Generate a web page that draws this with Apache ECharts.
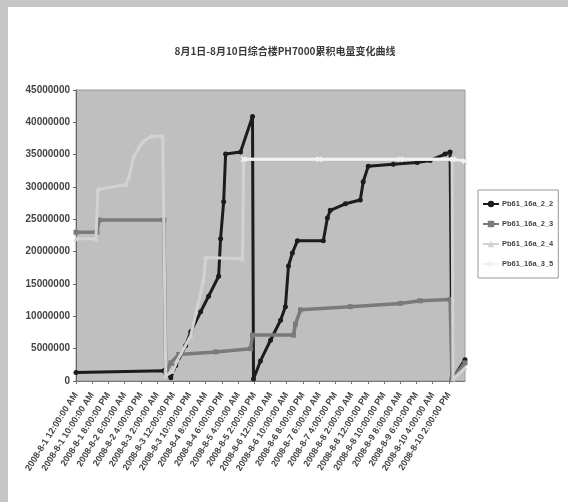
<!DOCTYPE html>
<html>
<head>
<meta charset="utf-8">
<script src="https://cdn.jsdelivr.net/npm/echarts@6/dist/echarts.min.js"></script>
<style>
html,body{margin:0;padding:0;background:#fff;}
#c{width:568px;height:502px;}
</style>
</head>
<body>
<div id="c"></div>
<script>
// ---- data (x in hours since 2008-8-1 0:00, y in raw units) ----
var titleText = '8月1日-8月10日综合楼PH7000累积电量变化曲线';
var seriesNames = ['Pb61_16a_2_2', 'Pb61_16a_2_3', 'Pb61_16a_2_4', 'Pb61_16a_3_5'];
var tickLabels = [
  '2008-8-1 12:00:00 AM', '2008-8-1 10:00:00 AM', '2008-8-1 8:00:00 PM',
  '2008-8-2 6:00:00 AM', '2008-8-2 4:00:00 PM', '2008-8-3 2:00:00 AM',
  '2008-8-3 12:00:00 PM', '2008-8-3 10:00:00 PM', '2008-8-4 8:00:00 AM',
  '2008-8-4 6:00:00 PM', '2008-8-5 4:00:00 AM', '2008-8-5 2:00:00 PM',
  '2008-8-6 12:00:00 AM', '2008-8-6 10:00:00 AM', '2008-8-6 8:00:00 PM',
  '2008-8-7 6:00:00 AM', '2008-8-7 4:00:00 PM', '2008-8-8 2:00:00 AM',
  '2008-8-8 12:00:00 PM', '2008-8-8 10:00:00 PM', '2008-8-9 8:00:00 AM',
  '2008-8-9 6:00:00 PM', '2008-8-10 4:00:00 AM', '2008-8-10 2:00:00 PM'
];
var s1Hours = [0, 54.2, 55.4, 58.5, 61.5, 67.7, 70.8, 76.9, 81.8, 88.0, 89.2, 91.1, 92.3, 101.5, 108.9, 109.5, 113.8, 120.0, 126.2, 129.2, 131.1, 133.5, 136.6, 152.6, 155.1, 156.9, 166.2, 175.4, 177.2, 180.3, 195.7, 210.5, 218.5, 227.7, 230.8, 232.0, 240];
var s1Values = [1300000, 1600000, 1700000, 500000, 2400000, 5500000, 7600000, 10700000, 13100000, 16200000, 22000000, 27700000, 35100000, 35400000, 40900000, 300000, 3100000, 6300000, 9400000, 11500000, 17800000, 19800000, 21700000, 21700000, 25200000, 26400000, 27400000, 28000000, 30800000, 33200000, 33500000, 33800000, 34100000, 35100000, 35400000, 200000, 3300000];
var s2Hours = [0, 12.9, 14.2, 54.2, 55.4, 58.5, 63.4, 86.2, 107.7, 108.9, 134.2, 135.4, 138.5, 169.2, 200, 212.3, 230.8, 232, 240];
var s2Values = [23000000, 23000000, 24900000, 24900000, 1300000, 2800000, 4100000, 4500000, 5000000, 7100000, 7100000, 8800000, 11000000, 11500000, 12000000, 12400000, 12600000, 300000, 2800000];
var s3Hours = [0, 12.3, 13.5, 30.8, 32.6, 35.7, 41.2, 46.2, 53.5, 55.4, 59.7, 62.8, 70.8, 78.8, 80.0, 102.8, 103.4, 232, 232.6, 240];
var s3Values = [22000000, 22000000, 29600000, 30400000, 31500000, 34800000, 37000000, 37800000, 37900000, 800000, 1500000, 3300000, 7000000, 15700000, 19100000, 18900000, 34300000, 34300000, 300000, 2000000];
var s4Hours = [103.4, 150, 200, 232.6, 240];
var s4Values = [34300000, 34300000, 34300000, 34300000, 34000000];

function pairs(h, v) { return h.map(function (x, i) { return [x, v[i]]; }); }

var colors = ['#1c1c1c', '#7a7a7a', '#d2d2d2', '#f2f2f2'];
var lineWidths = [3, 3.5, 3, 3];
var symbols = ['circle', 'rect', 'triangle', 'path://M0,2L2,0L5,3L8,0L10,2L7,5L10,8L8,10L5,7L2,10L0,8L3,5Z'];
var allData = [pairs(s1Hours, s1Values), pairs(s2Hours, s2Values), pairs(s3Hours, s3Values), pairs(s4Hours, s4Values)];

var chart = echarts.init(document.getElementById('c'), null, {renderer: 'canvas'});
var option = {
  animation: false,
  backgroundColor: '#ffffff',
  graphic: [
    {type: 'rect', shape: {x: 0, y: 0, width: 8, height: 502}, style: {fill: '#c6c6c6'}, z: -10},
    {type: 'rect', shape: {x: 0, y: 0, width: 568, height: 7}, style: {fill: '#c6c6c6'}, z: -10}
  ],
  title: {
    text: titleText,
    left: 280, top: 41, textAlign: 'center',
    textStyle: {fontSize: 10, fontWeight: 'bold', color: '#3a3a3a', fontFamily: 'Noto Sans CJK SC'}
  },
  legend: {
    orient: 'vertical',
    left: 478, top: 190,
    padding: [10, 5, 10, 4],
    itemGap: 12,
    itemWidth: 16, itemHeight: 8,
    backgroundColor: '#ffffff',
    borderColor: '#999999', borderWidth: 1,
    textStyle: {fontSize: 7.5, color: '#444', fontWeight: 'bold', fontFamily: 'Liberation Sans', padding: [0, 0, 0, -2]},
    data: seriesNames
  },
  grid: {
    left: 76, right: 103, top: 90, bottom: 121,
    show: true, backgroundColor: '#bfbfbf', borderColor: '#9a9a9a', borderWidth: 1
  },
  xAxis: {
    type: 'value', min: 0, max: 240, interval: 10,
    axisLine: {show: true, lineStyle: {color: '#777', width: 1}},
    axisTick: {show: true, length: 3, lineStyle: {color: '#777'}},
    splitLine: {show: false},
    axisLabel: {
      rotate: 58, fontSize: 9, color: '#444', fontWeight: 'bold', margin: 12,
      fontFamily: 'Liberation Sans', showMaxLabel: false,
      formatter: function (v) { var i = Math.round(v / 10); return tickLabels[i] || ''; }
    }
  },
  yAxis: {
    type: 'value', min: 0, max: 45000000, interval: 5000000,
    axisLine: {show: true, lineStyle: {color: '#666', width: 1}},
    axisTick: {show: true, length: 3, lineStyle: {color: '#666'}},
    splitLine: {show: false},
    axisLabel: {fontSize: 10, color: '#444', fontWeight: 'bold', margin: 6, fontFamily: 'Liberation Sans',
      formatter: function (v) { return String(v); }}
  },
  series: seriesNames.map(function (n, i) {
    return {
      name: n, type: 'line', data: allData[i],
      symbol: symbols[i], symbolSize: i === 3 ? 6 : 5, showSymbol: true,
      lineStyle: {color: colors[i], width: lineWidths[i]},
      itemStyle: {color: colors[i]},
      z: 2 + i
    };
  })
};
chart.setOption(option);
</script>
</body>
</html>
